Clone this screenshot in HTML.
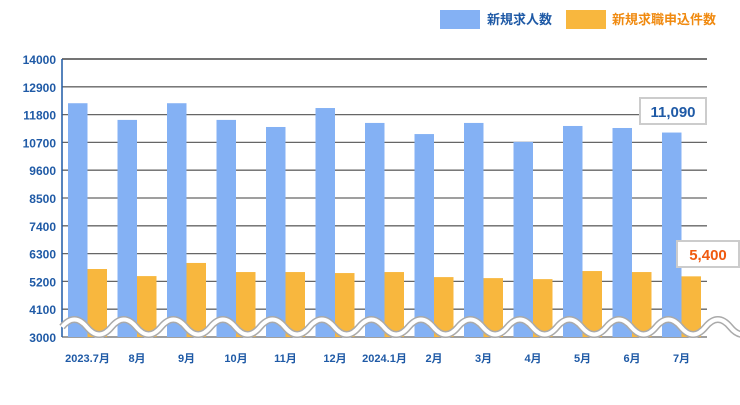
<!DOCTYPE html>
<html><head><meta charset="utf-8"><style>
body{margin:0;background:#fff;}
svg text{font-family:"Liberation Sans","Noto Sans CJK JP",sans-serif;}
</style></head><body>
<svg width="740" height="400" viewBox="0 0 740 400">
<g>
<rect x="440" y="10" width="40" height="19" fill="#84b1f4"/>
<text x="487" y="24" font-size="13" font-weight="bold" fill="#1f5aa6">新規求人数</text>
<rect x="566" y="10" width="40" height="19" fill="#f8b73e"/>
<text x="612" y="24" font-size="13" font-weight="bold" fill="#f08a10">新規求職申込件数</text>
</g>
<g id="grid"></g><g id="bars"></g><g id="wave"></g><g id="labels"></g>
<g>
<rect x="640" y="98" width="66" height="26" fill="#fff" stroke="#ccc" stroke-width="2"/>
<text x="673" y="117" font-size="15" font-weight="bold" fill="#1f5aa6" text-anchor="middle">11,090</text>
</g>
<g>
<rect x="677" y="241" width="62" height="26" fill="#fff" stroke="#ccc" stroke-width="2"/>
<text x="708" y="260" font-size="15" font-weight="bold" fill="#f05a10" text-anchor="middle">5,400</text>
</g>
</svg>
<script>
const categories=["2023.7月","8月","9月","10月","11月","12月","2024.1月","2月","3月","4月","5月","6月","7月"];
const jobs=[12250,11590,12250,11590,11310,12060,11470,11030,11470,10720,11350,11270,11090];
const seekers=[5690,5410,5930,5570,5570,5530,5570,5370,5330,5290,5610,5570,5400];
const ticks=[3000,4100,5200,6300,7400,8500,9600,10700,11800,12900,14000];
const NS="http://www.w3.org/2000/svg";
const x0=62,x1=707,yMin=3000,yMax=14000,yTop=59,yBot=337;
const y=v=>yBot-(v-yMin)/(yMax-yMin)*(yBot-yTop);
const step=49.5,first=68,bw=19.5;
const xb=i=>first+i*step;
function mk(t,a,p){const e=document.createElementNS(NS,t);for(const k in a)e.setAttribute(k,a[k]);p.appendChild(e);return e;}
const grid=document.getElementById('grid'),bars=document.getElementById('bars'),labels=document.getElementById('labels'),wave=document.getElementById('wave');
ticks.forEach((t,i)=>{
 const l=mk('line',{x1:x0,x2:x1,y1:y(t),y2:y(t),stroke:i==ticks.length-1?'#222':'#666','stroke-width':1.3},grid);
 
 
 const tx=mk('text',{x:56,y:y(t)+5,'font-size':12,'font-weight':'bold',fill:'#1f5aa6','text-anchor':'end'},labels);
 tx.textContent=t;
 
 
});
const ax=mk('line',{x1:x0,x2:x0,y1:yTop,y2:yBot,stroke:'#1f5aa6','stroke-width':1.5},grid);


categories.forEach((c,i)=>{
 const b=mk('rect',{x:xb(i),y:y(jobs[i]),width:bw,height:yBot-y(jobs[i]),fill:'#84b1f4'},bars);
 
 
 const o=mk('rect',{x:xb(i)+bw,y:y(seekers[i]),width:bw,height:yBot-y(seekers[i]),fill:'#f8b73e'},bars);
 
 
 const t=mk('text',{x:xb(i)+bw,y:362,'font-size':11,'font-weight':'bold',fill:'#1f5aa6','text-anchor':'middle'},labels);
 t.textContent=c;
 
 
});
let d="M"+x0+" 327";
for(let x=x0;x<x1;x+=49.5){d+=" c8.25 -10 16.5 -10 24.75 0 c8.25 10 16.5 10 24.75 0";}
const w2=mk('path',{d:d,fill:'none',stroke:'#aaa','stroke-width':7},wave);


const w3=mk('path',{d:d,fill:'none',stroke:'#fff','stroke-width':4},wave);


</script>
</body></html>
